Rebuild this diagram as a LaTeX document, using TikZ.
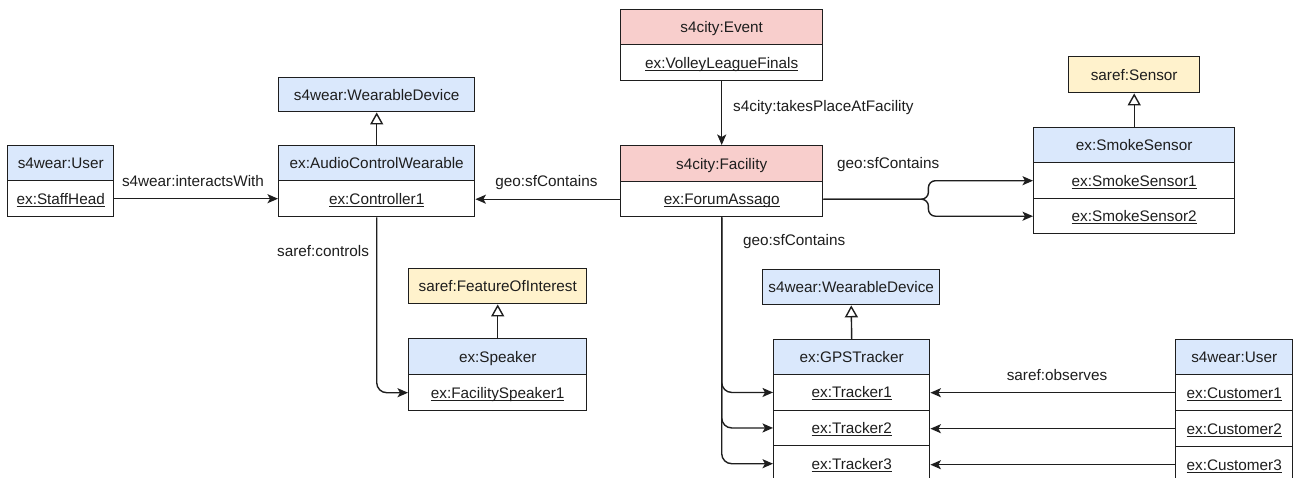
\documentclass[tikz,border=0pt]{standalone}
\usepackage{fontspec}
\setmainfont{Liberation Sans}
\usetikzlibrary{arrows.meta}

\definecolor{linec}{HTML}{1E1E1E}
\definecolor{cblue}{HTML}{DAE8FC}
\definecolor{cred}{HTML}{F8CECC}
\definecolor{cyellow}{HTML}{FFF2CC}

\newcommand{\fs}{\fontsize{15.3}{18}\selectfont}
% underline at a fixed depth below the baseline, crossing descenders
\newsavebox{\instbox}
\newcommand{\inst}[1]{\sbox\instbox{#1}\rlap{\rule[-2.4pt]{\wd\instbox}{0.9pt}}\usebox\instbox}

\tikzset{
  box/.style={draw=linec, line width=1.4pt, inner sep=0pt, anchor=north west,
    font=\fs, text=linec, text height=11pt, text depth=0pt},
  clsblue/.style={box, fill=cblue},
  clsred/.style={box, fill=cred},
  clsyellow/.style={box, fill=cyellow},
  rowbox/.style={box, fill=white},
  lbl/.style={font=\fs, text=linec, inner sep=0pt, text height=11pt, text depth=0pt},
  rel/.style={draw=linec, line width=1.4pt, -{Stealth[length=10.5pt,width=9pt,inset=2.5pt]}},
  isa/.style={draw=linec, line width=1.4pt, -{Triangle[open,length=12pt,width=13pt,fill=white]}},
}

\begin{document}
\begin{tikzpicture}[x=1pt, y=-1pt]
\useasboundingbox (0,0) rectangle (1293,477);
\fill[white] (0,0) rectangle (1293,477);

% ---- staff head ----
\node[clsblue, minimum width=106pt, minimum height=35pt] (user1h) at (7,145) {s4wear:User};
\node[rowbox, minimum width=106pt, minimum height=36pt] (user1r) at (7,180) {\inst{ex:StaffHead}};

% ---- audio control wearable ----
\node[clsblue, minimum width=196pt, minimum height=34pt] (wd1) at (278,77) {s4wear:WearableDevice};
\node[clsblue, minimum width=196pt, minimum height=35pt] (acwh) at (278,145) {ex:AudioControlWearable};
\node[rowbox, minimum width=196pt, minimum height=36pt] (acwr) at (278,180) {\inst{ex:Controller1}};

% ---- event and facility ----
\node[clsred, minimum width=202pt, minimum height=35pt] (eventh) at (620,9) {s4city:Event};
\node[rowbox, minimum width=202pt, minimum height=36pt] (eventr) at (620,44) {\inst{ex:VolleyLeagueFinals}};
\node[clsred, minimum width=202pt, minimum height=36pt] (fach) at (620,145) {s4city:Facility};
\node[rowbox, minimum width=202pt, minimum height=35pt] (facr) at (620,181) {\inst{ex:ForumAssago}};

% ---- smoke sensors ----
\node[clsyellow, minimum width=131pt, minimum height=36pt] (sensor) at (1068,56) {saref:Sensor};
\node[clsblue, minimum width=201pt, minimum height=35pt] (smokeh) at (1033,127) {ex:SmokeSensor};
\node[rowbox, minimum width=201pt, minimum height=36pt] (smoke1) at (1033,162) {\inst{ex:SmokeSensor1}};
\node[rowbox, minimum width=201pt, minimum height=35pt] (smoke2) at (1033,198) {\inst{ex:SmokeSensor2}};

% ---- speaker ----
\node[clsyellow, minimum width=178pt, minimum height=35pt] (foi) at (408,268) {saref:FeatureOfInterest};
\node[clsblue, minimum width=178pt, minimum height=36pt] (speakerh) at (408,338) {ex:Speaker};
\node[rowbox, minimum width=178pt, minimum height=36pt] (speakerr) at (408,374) {\inst{ex:FacilitySpeaker1}};

% ---- GPS trackers ----
\node[clsblue, minimum width=177pt, minimum height=35pt] (wd2) at (762,269) {s4wear:WearableDevice};
\node[clsblue, minimum width=156pt, minimum height=35pt] (gpsh) at (773,339) {ex:GPSTracker};
\node[rowbox, minimum width=156pt, minimum height=35.5pt] (gps1) at (773,374) {\inst{ex:Tracker1}};
\node[rowbox, minimum width=156pt, minimum height=35.5pt] (gps2) at (773,409.5) {\inst{ex:Tracker2}};
\node[rowbox, minimum width=156pt, minimum height=36pt] (gps3) at (773,445) {\inst{ex:Tracker3}};

% ---- customers ----
\node[clsblue, minimum width=117pt, minimum height=35pt] (user2h) at (1175,339) {s4wear:User};
\node[rowbox, minimum width=117pt, minimum height=36pt] (cust1) at (1175,374) {\inst{ex:Customer1}};
\node[rowbox, minimum width=117pt, minimum height=36pt] (cust2) at (1175,410) {\inst{ex:Customer2}};
\node[rowbox, minimum width=117pt, minimum height=36pt] (cust3) at (1175,446) {\inst{ex:Customer3}};

% ---- subclass links ----
\draw[isa] (acwh.north) -- (wd1.south);
\draw[isa] (smokeh.north) -- (sensor.south);
\draw[isa] (speakerh.north) -- (foi.south);
\draw[isa] (gpsh.north) -- (wd2.south);

% ---- relations ----
\draw[rel] (user1r.east) -- (user1r.east -| acwr.west);
\draw[rel] (facr.west) -- (facr.west -| acwr.east);
\draw[rel] (eventr.south) -- (fach.north);
\draw[rel, rounded corners=7pt] (facr.east) -- ++(105,0) |- (smoke1.west);
\draw[rel, rounded corners=7pt] (facr.east) -- ++(105,0) |- (smoke2.west);
\draw[rel, rounded corners=10pt] (facr.south) |- (gps1.west);
\draw[rel, rounded corners=10pt] (facr.south) |- (gps2.west);
\draw[rel, rounded corners=10pt] (facr.south) |- (gps3.west);
\draw[rel, rounded corners=10pt] (acwr.south) |- (speakerr.west);
\draw[rel] (cust1.west) -- (cust1.west -| gps1.east);
\draw[rel] (cust2.west) -- (cust2.west -| gps2.east);
\draw[rel] (cust3.west) -- (cust3.west -| gps3.east);

% ---- relation labels ----
\node[lbl] (linteracts) at (193,181) {s4wear:interactsWith};
\node[lbl] (lcontleft) at (546.5,181) {geo:sfContains};
\node[lbl, anchor=west] (ltakes) at (733,106) {s4city:takesPlaceAtFacility};
\node[lbl, anchor=west] (lcontright) at (837,163) {geo:sfContains};
\node[lbl, anchor=west] (lcontdown) at (743,240) {geo:sfContains};
\node[lbl, anchor=west] (lcontrols) at (277,251) {saref:controls};
\node[lbl] (lobserves) at (1057,375) {saref:observes};
\end{tikzpicture}
\end{document}
